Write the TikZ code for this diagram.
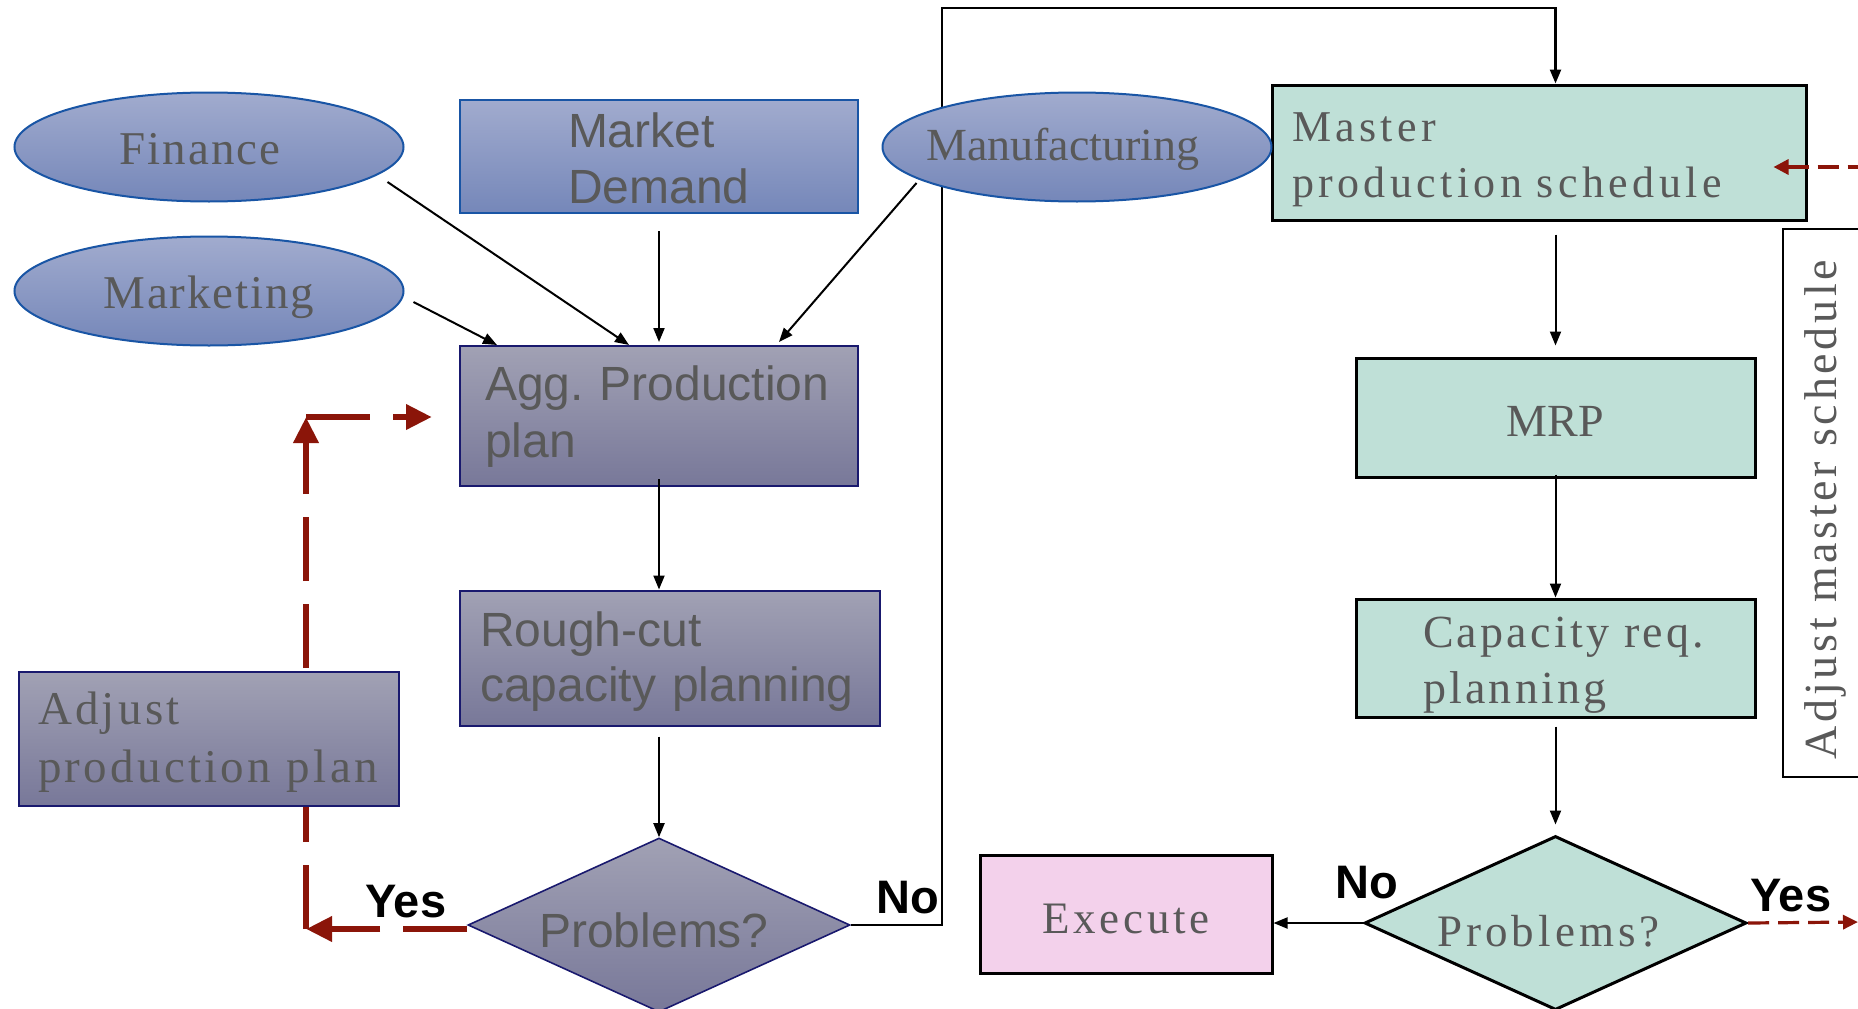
\documentclass[tikz,border=0pt]{standalone}
\usepackage{fontspec}
\setmainfont{Liberation Serif}
\newfontfamily\serZ{Liberation Serif}
\newfontfamily\serA[LetterSpace=4]{Liberation Serif}
\newfontfamily\serG[LetterSpace=7]{Liberation Serif}
\newfontfamily\serH[LetterSpace=8]{Liberation Serif}
\newfontfamily\serI[LetterSpace=9]{Liberation Serif}
\newfontfamily\serJ[LetterSpace=10]{Liberation Serif}
\newfontfamily\arl{Liberation Sans}
\newcommand\setfs[2]{\fontsize{#1}{#2}\selectfont}
% lower a one-line label inside its shape without changing the shape
\newcommand\dropby[2]{\raisebox{-#1}[\height][\depth]{#2}}
\usetikzlibrary{shapes.geometric,arrows.meta,calc}

\definecolor{bluetop}{RGB}{161,171,206}
\definecolor{bluebot}{RGB}{117,135,185}
\definecolor{blueline}{RGB}{25,85,165}
\definecolor{graytop}{RGB}{161,161,180}
\definecolor{graybot}{RGB}{120,120,153}
\definecolor{grayline}{RGB}{25,25,110}
\definecolor{tealfill}{RGB}{191,224,215}
\definecolor{pinkfill}{RGB}{243,209,235}
\definecolor{txtgray}{RGB}{89,89,89}
\definecolor{dred}{RGB}{139,21,9}

\tikzset{
  ell/.style={ellipse, draw=blueline, line width=2pt, top color=bluetop,
    bottom color=bluebot, minimum width=389pt, minimum height=109pt,
    inner sep=0pt, text=txtgray},
  bluebox/.style={rectangle, draw=blueline, line width=2pt, top color=bluetop,
    bottom color=bluebot, inner sep=0pt, text=txtgray, align=left},
  graybox/.style={rectangle, draw=grayline, line width=2pt, top color=graytop,
    bottom color=graybot, inner sep=0pt, text=txtgray, align=left},
  graydia/.style={diamond, aspect=2.1, draw=grayline, line width=1.6pt,
    top color=graytop, bottom color=graybot, minimum width=382pt,
    minimum height=174pt, inner sep=0pt, text=txtgray},
  tealbox/.style={rectangle, draw=black, line width=3pt, fill=tealfill,
    inner sep=0pt, text=txtgray, align=left},
  tealdia/.style={diamond, aspect=2.1, draw=black, line width=3pt,
    fill=tealfill, minimum width=382pt, minimum height=174pt, inner sep=0pt,
    text=txtgray},
  pinkbox/.style={rectangle, draw=black, line width=3pt, fill=pinkfill,
    inner sep=0pt, text=txtgray},
  adjbox/.style={rectangle, draw=black, line width=2.5pt, fill=white,
    inner sep=0pt, text=txtgray},
  lbl/.style={font=\arl\bfseries\setfs{47}{50}, text=black, inner sep=0pt},
  arr/.style={draw=black, line width=2pt,
    -{Triangle[length=14pt,width=11pt]}},
  loopline/.style={draw=black, line width=2.4pt,
    -{Triangle[length=14pt,width=11pt]}},
  redthick/.style={draw=dred, line width=6.5pt, dash pattern=on 64pt off 23pt,
    -{Triangle[length=26pt,width=24pt]}},
  redthin/.style={draw=dred, line width=3.2pt, dash pattern=on 21pt off 9pt},
}

\begin{document}
\begin{tikzpicture}[x=1pt, y=-1pt]
\useasboundingbox[fill=white] (0,0) rectangle (1858,1009);
\clip (0,0) rectangle (1858,1009);

% decision and schedule nodes that the long "No" loop connects
\node[graydia, font=\arl\setfs{48}{55}] (lprob) at (659,925)
  {\hspace*{-10pt}\dropby{5pt}{Problems?}};
\node[tealbox, minimum width=534pt, minimum height=135pt, text width=494pt,
  text height=10pt, text depth=33pt, font=\serJ\setfs{44}{56}]
  (mps) at (1539,152.5) {Master\\production~schedule};
\node[tealbox, minimum width=399pt, minimum height=119pt,
  font=\serZ\setfs{46}{56}] (mrp) at (1555.5,417.5) {\dropby{4pt}{MRP}};

% "No" loop from the first decision up to the master schedule
\coordinate (looptop) at (942,8);
\draw[loopline] (lprob.east) -| (looptop) -| (mrp.north |- mps.north);

% input nodes
\node[ell, font=\serA\setfs{47}{56}] (fin) at (209,147)
  {\hspace*{-18pt}\dropby{2pt}{Finance}};
\node[ell, font=\serA\setfs{47}{56}] (mkt) at (209,291)
  {\dropby{6pt}{Marketing}};
\node[ell, font=\serZ\setfs{46}{56}] (manu) at (1077,147)
  {\hspace*{-28pt}\dropby{2pt}{Manufacturing}};
\node[bluebox, minimum width=398pt, minimum height=113pt, text width=182pt,
  text height=20pt, text depth=39pt, font=\arl\setfs{48}{56}]
  (md) at (659,156.5) {Market\\Demand};

% planning chain
\node[graybox, minimum width=398pt, minimum height=140pt, text width=348pt,
  text height=10pt, text depth=42pt, font=\arl\setfs{48}{57}]
  (agg) at (659,416) {Agg.~Production\\plan};
\node[graybox, minimum width=420pt, minimum height=135pt, text width=380pt,
  text height=10pt, text depth=34pt, font=\arl\setfs{48}{55}]
  (rough) at (670,658) {Rough-cut\\capacity~planning};
\node[tealbox, minimum width=399pt, minimum height=118pt, text width=265pt,
  text height=10pt, text depth=32pt, font=\serG\setfs{46}{56}]
  (cap) at (1555.5,658) {Capacity~req.\\planning};
\node[tealdia, font=\serI\setfs{45}{55}] (rprob) at (1555.5,923)
  {\hspace*{-14pt}\dropby{8pt}{Problems?}};
\node[pinkbox, minimum width=292pt, minimum height=118pt,
  font=\serH\setfs{45}{55}] (exe) at (1126,914) {\dropby{5pt}{Execute}};

% connectors
\draw[arr] ($(fin.east)+(-17,35)$) -- ($(agg.north)+(-30,0)$);
\draw[arr] ($(mkt.east)+(9,11)$) -- ($(agg.north)+(-162,0)$);
\draw[arr, shorten <=17pt, shorten >=3pt] (md.south) -- (agg.north);
\draw[arr] ($(manu.west)+(35,36)$) -- ($(agg.north)+(120,-3)$);
\draw[arr, shorten <=-8pt] (agg.south) -- (agg.south |- rough.north);
\draw[arr, shorten <=10pt] (agg.south |- rough.south) -- (lprob.north);
\draw[arr, shorten <=13pt, shorten >=11pt] (mrp.north |- mps.south) -- (mrp.north);
\draw[arr, shorten <=-4pt] (mrp.south) -- (cap.north);
\draw[arr, shorten <=8pt, shorten >=10pt] (cap.south) -- (rprob.north);
\draw[arr] (rprob.west) -- (rprob.west -| exe.east);

% feedback to the aggregate plan
\coordinate (ycorner) at (306,929);
\coordinate (upcorner) at (306,417);
\draw[redthick] ($(lprob.west)+(0,4)$) -- (ycorner);
\draw[redthick] (ycorner) -- (upcorner);
\draw[redthick, shorten >=27pt] (upcorner) -- (upcorner -| agg.west);
\node[graybox, minimum width=380pt, minimum height=134pt, text width=342pt,
  text height=10pt, text depth=40pt, font=\serG\setfs{47}{58}]
  (adjp) at (209,739) {Adjust\\production~plan};

% feedback to the master schedule
\coordinate (yesout) at (1858,922);
\draw[redthin, -{Triangle[length=15pt,width=14pt]}] (rprob.east) -- (yesout);
\coordinate (adjin) at (1880,167);
\draw[redthin, {Triangle[length=15pt,width=15pt]}-, shorten <=-34pt]
  (adjin -| mps.east) -- (adjin);
\node[adjbox, rotate=90, minimum width=548pt, minimum height=79pt,
  font=\serH\setfs{46}{56}] (adjm) at (1822.5,503)
  {\hspace*{-13pt}\dropby{3pt}{Adjust master schedule}};

% branch labels
\node[lbl, anchor=base west] (yesL) at (365,917) {Yes};
\node[lbl, anchor=base west] (noL) at (876,913) {No};
\node[lbl, anchor=base west] (noR) at (1335,898) {No};
\node[lbl, anchor=base west] (yesR) at (1750,911) {Yes};
\end{tikzpicture}
\end{document}
